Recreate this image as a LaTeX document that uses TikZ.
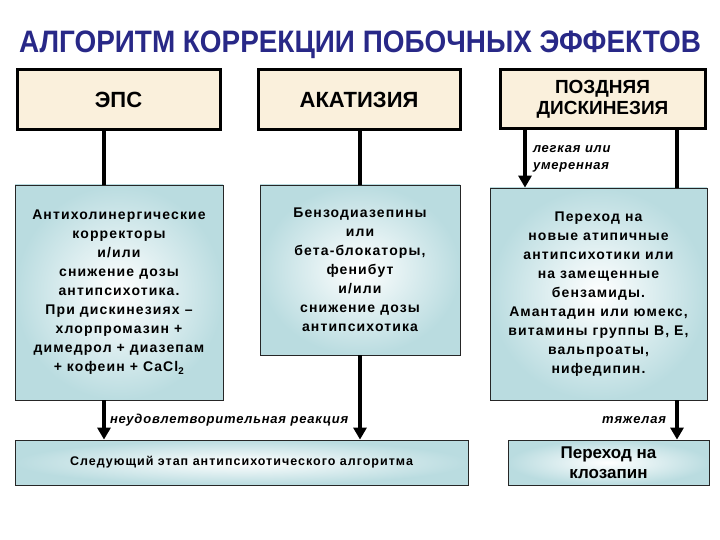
\documentclass[tikz,border=0pt]{standalone}
\usepackage{fontspec}
\setmainfont{Liberation Sans}
\newfontfamily\spacedfont[LetterSpace=8]{Liberation Sans}
\newfontfamily\notefont[LetterSpace=6]{Liberation Sans}
\usepackage{tikz}
\usetikzlibrary{arrows.meta,positioning,calc}
\definecolor{algNavy}{RGB}{40,40,135}
\definecolor{algCream}{RGB}{250,240,220}
\definecolor{algTeal}{RGB}{186,220,224}
\tikzset{
  headbox/.style={draw=black, line width=3pt, fill=algCream, align=center,
                  font=\bfseries\fontsize{22}{21}\selectfont, inner sep=2pt},
  drugbox/.style={draw=black!85, line width=0.8pt, inner color=white, outer color=algTeal,
                  align=center, font=\spacedfont\bfseries\fontsize{14}{19}\selectfont, inner sep=2pt},
  link/.style={line width=4pt, draw=black},
  arrow/.style={link, -{Triangle[length=12pt, width=13pt]}},
  note/.style={font=\notefont\bfseries\itshape\fontsize{13}{17}\selectfont, align=left, inner sep=4pt}
}

\begin{document}
\begin{tikzpicture}[x=1pt, y=-1pt]
\useasboundingbox (0,0) rectangle (720,540);
\node[text=algNavy, inner sep=0pt] (title) at (360,45)
  {\scalebox{0.9}[1]{\bfseries\fontsize{31}{32}\selectfont АЛГОРИТМ КОРРЕКЦИИ ПОБОЧНЫХ ЭФФЕКТОВ}};
% top row
\node[headbox, minimum width=203pt, minimum height=60pt] (eps) at (118.5,100) {ЭПС};
\node[headbox, minimum width=202pt, minimum height=60pt] (akat) at (359,100) {АКАТИЗИЯ};
\node[headbox, minimum width=205pt, minimum height=59pt, font=\bfseries\fontsize{19}{21}\selectfont]
  (pozd) at (602.5,99.5) {ПОЗДНЯЯ\\ДИСКИНЕЗИЯ};
% treatment boxes
\node[drugbox, minimum width=208pt, minimum height=215pt] (anti) at (119,292.5)
  {Антихолинергические\\корректоры\\и/или\\снижение дозы\\антипсихотика.\\При дискинезиях –\\хлорпромазин +\\димедрол + диазепам\\+ кофеин + CaCl\textsubscript{2}};
\node[drugbox, minimum width=200pt, minimum height=170pt] (benz) at (360,270)
  {Бензодиазепины\\или\\бета-блокаторы,\\фенибут\\и/или\\снижение дозы\\антипсихотика};
\node[drugbox, minimum width=217pt, minimum height=212pt] (atyp) at (598.5,294)
  {Переход на\\новые атипичные\\антипсихотики или\\на замещенные\\бензамиды.\\Амантадин или юмекс,\\витамины группы В, Е,\\вальпроаты,\\нифедипин.};
% bottom row
\node[drugbox, minimum width=453pt, minimum height=45pt, font=\spacedfont\bfseries\fontsize{12.5}{14}\selectfont]
  (next) at (241.5,462.5) {Следующий этап антипсихотического алгоритма};
\node[drugbox, minimum width=201pt, minimum height=45pt, font=\bfseries\fontsize{17}{20}\selectfont]
  (cloz) at (608.5,462.5) {Переход на\\клозапин};
% line positions
\coordinate (xl) at (104,0);
\coordinate (xm) at (360,0);
\coordinate (xr) at (525,0);
\coordinate (xs) at (677,0);
\draw[link] (eps.south -| xl) -- (anti.north -| xl);
\draw[link] (akat.south -| xm) -- (benz.north -| xm);
\draw[arrow] (pozd.south -| xr) -- node[note, right, xshift=2pt] {легкая или\\умеренная} (atyp.north -| xr);
\draw[link] (pozd.south -| xs) -- (atyp.north -| xs);
\draw[arrow] (anti.south -| xl) -- node[note, right] {неудовлетворительная реакция} (next.north -| xl);
\draw[arrow] (benz.south -| xm) -- (next.north -| xm);
\draw[arrow] (atyp.south -| xs) -- node[note, left, xshift=-5pt] {тяжелая} (cloz.north -| xs);
\end{tikzpicture}
\end{document}
